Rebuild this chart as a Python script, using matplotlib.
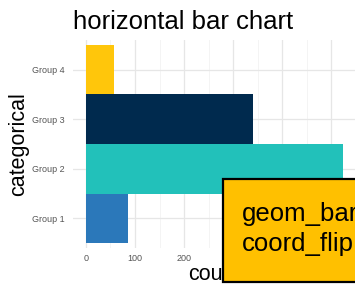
import matplotlib
matplotlib.use("Agg")
import matplotlib.pyplot as plt
from matplotlib.patches import Rectangle
from matplotlib.ticker import MultipleLocator

categories = ["Group 1", "Group 2", "Group 3", "Group 4"]
counts = [86, 524, 341, 57]
colors = ["#2B78BA", "#22C1BA", "#002A4E", "#FFC60B"]
xticks = [0, 100, 200, 300, 400, 500]

plt.rcParams['font.family'] = ['Liberation Sans', 'DejaVu Sans']

W, H = 355, 289
fig = plt.figure(figsize=(W/100, H/100), dpi=100)
ax = fig.add_axes([73/W, 1-248/H, 283/W, 208/H])

ypos = list(range(len(categories)))
ax.barh(ypos, counts, height=1.0, color=colors, zorder=3)
ax.set_yticks(ypos)
ax.set_yticklabels(categories)
ax.set_xticks(xticks)
ax.xaxis.set_minor_locator(MultipleLocator(50))
ax.set_xlim(-26.2, 550.2)
ax.set_ylim(-0.6, 3.6)
ax.grid(True, which='major', color='#E6E6E6', linewidth=0.9, zorder=0)
ax.grid(True, which='minor', axis='x', color='#F2F2F2', linewidth=0.6, zorder=0)
for s in ax.spines.values():
    s.set_visible(False)
ax.tick_params(axis='both', which='both', length=0, labelsize=6.5, labelcolor='#555555')
ax.tick_params(axis='y', pad=6)
ax.tick_params(axis='x', pad=4)
ax.set_ylabel("categorical", fontsize=15.5, labelpad=2)
ax.set_xlabel("count", fontsize=15.5, labelpad=1)

fig.text(183/W, 1-22/H, "horizontal bar chart", fontsize=18.5, ha='center', va='center')

box = Rectangle((223/W, 1-282/H), 200/W, 103/H, transform=fig.transFigure,
                facecolor='#FFC000', edgecolor='black', linewidth=1.6, clip_on=False, zorder=10)
fig.patches.append(box)
fig.text(242/W, 1-214/H, "geom_bar", fontsize=18.5, ha='left', va='center', zorder=11)
fig.text(242/W, 1-244/H, "coord_flip", fontsize=18.5, ha='left', va='center', zorder=11)

fig.savefig("out.png", dpi=100)
